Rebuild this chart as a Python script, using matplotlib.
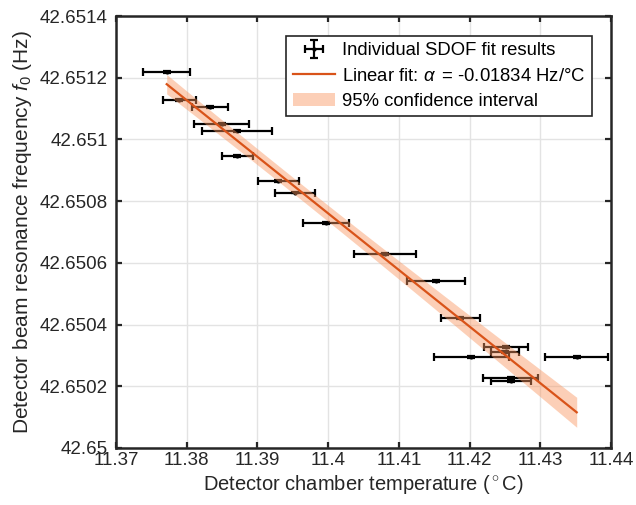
import numpy as np
import matplotlib
matplotlib.use("Agg")
import matplotlib.pyplot as plt
from matplotlib.ticker import FixedLocator, FuncFormatter

plt.rcParams['font.family'] = ['Liberation Sans', 'DejaVu Sans']
plt.rcParams['mathtext.fontset'] = 'custom'
plt.rcParams['mathtext.rm'] = 'Liberation Sans'
plt.rcParams['mathtext.it'] = 'Liberation Sans:italic'

# individual SDOF fit results (temperature in degC, f0 in Hz)
temp = [11.37717, 11.37895, 11.38329, 11.38495, 11.38707, 11.38715, 11.39291,
        11.39531, 11.39966, 11.40804, 11.41526, 11.41865, 11.42515, 11.42501,
        11.42024, 11.43515, 11.42583, 11.42581]
freq = [42.651218, 42.651128, 42.651104, 42.651050, 42.651027, 42.650947, 42.650865,
        42.650828, 42.650728, 42.650628, 42.650542, 42.650420, 42.650326, 42.650311,
        42.650296, 42.650296, 42.650226, 42.650217]
temp_err = [0.00334, 0.00235, 0.00260, 0.00385, 0.00495, 0.00219, 0.00290,
            0.00276, 0.00325, 0.00436, 0.00408, 0.00276, 0.00311, 0.00200,
            0.00530, 0.00443, 0.00389, 0.00283]
freq_err = [3e-6] * len(temp)

# linear fit and its 95% confidence band
fit_slope = -0.01834
fit_x0 = 11.395
fit_y0 = 42.650852
ci_half0 = 2.55e-5      # half width at fit_x0
ci_growth = 0.00103     # growth of half width per degC away from fit_x0

xticks = [11.37, 11.38, 11.39, 11.40, 11.41, 11.42, 11.43, 11.44]
yticks = [42.6500, 42.6502, 42.6504, 42.6506, 42.6508, 42.6510, 42.6512, 42.6514]


def trim(v, _pos=None):
    return f"{v:.4f}".rstrip('0').rstrip('.')


def main():
    fig = plt.figure(figsize=(6.36, 5.05), dpi=100)
    ax = fig.add_axes([0.1824, 0.1129, 0.7783, 0.8554])

    eb = ax.errorbar(temp, freq, xerr=temp_err, yerr=freq_err, fmt='.', color='black',
                     markersize=4, elinewidth=1.6, capsize=2.6, capthick=1.6, zorder=2)

    xs = np.linspace(min(temp), max(temp), 200)
    ys = fit_y0 + fit_slope * (xs - fit_x0)
    hw = np.sqrt(ci_half0 ** 2 + (ci_growth * (xs - fit_x0)) ** 2)
    band = ax.fill_between(xs, ys - hw, ys + hw, color='#F99660', alpha=0.45, lw=0,
                           zorder=3)
    line, = ax.plot(xs, ys, color='#D95319', lw=1.6, zorder=4)

    ax.set_xlim(11.37, 11.44)
    ax.set_ylim(42.65, 42.6514)
    ax.xaxis.set_major_locator(FixedLocator(xticks))
    ax.yaxis.set_major_locator(FixedLocator(yticks))
    ax.xaxis.set_major_formatter(FuncFormatter(trim))
    ax.yaxis.set_major_formatter(FuncFormatter(trim))
    ax.grid(True, color='#e3e3e3', lw=1.0, zorder=0)
    ax.set_axisbelow(True)
    ax.tick_params(direction='in', length=4, width=1.6, colors='#262626',
                   top=True, right=True, labelsize=13.5)
    ax.tick_params(axis='y', pad=6)
    ax.tick_params(axis='x', pad=3)
    for s in ax.spines.values():
        s.set_linewidth(1.8)
        s.set_color('#262626')

    ax.set_xlabel(r'Detector chamber temperature ($^\circ$C)', fontsize=14.5,
                  color='#262626', labelpad=3)
    ax.set_ylabel(r'Detector beam resonance frequency $f_0$ (Hz)', fontsize=15,
                  color='#262626', labelpad=4)

    leg = ax.legend([eb, line, band],
                    ['Individual SDOF fit results', r'Linear fit: $\alpha\,$ = -0.01834 Hz/°C',
                     '95% confidence interval'],
                    loc='upper right', bbox_to_anchor=(0.961, 0.954), fontsize=13.3,
                    fancybox=False, framealpha=1, edgecolor='#262626', handlelength=2.3,
                    borderpad=0.35, labelspacing=0.45, handletextpad=0.35, borderaxespad=0)
    leg.get_frame().set_linewidth(1.2)

    fig.savefig('out.png', dpi=100)


if __name__ == "__main__":
    main()
